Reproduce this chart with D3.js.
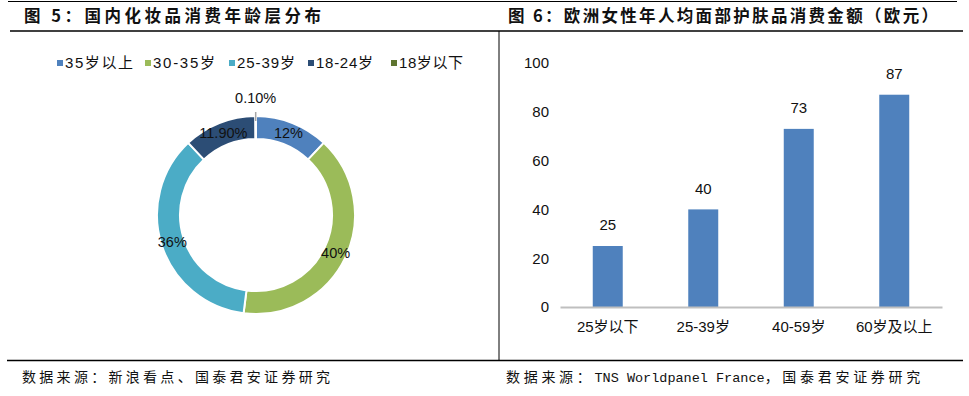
<!DOCTYPE html>
<html><head><meta charset="utf-8">
<script src="https://cdn.jsdelivr.net/npm/d3@7"></script>
<style>
html,body{margin:0;padding:0;background:#fff;}
svg{display:block;}
</style></head>
<body>
<svg id="c" width="969" height="396"></svg>
<script>
// ---- data ----
const title1 = "图 5：国内化妆品消费年龄层分布";
const title2 = "图 6：欧洲女性年人均面部护肤品消费金额（欧元）";
const source1 = "数据来源：新浪看点、国泰君安证券研究";
const source2Parts = ["数据来源：", "TNS Worldpanel France", "，国泰君安证券研究"];

const pieCategories = ["35岁以上", "30-35岁", "25-39岁", "18-24岁", "18岁以下"];
const pieValues = [12, 40, 36, 11.9, 0.1];
const pieLabels = ["12%", "40%", "36%", "11.90%", "0.10%"];
const pieColors = ["#4f81bd", "#9bbb59", "#4bacc6", "#2c4d75", "#5f7530"];

const barCategories = ["25岁以下", "25-39岁", "40-59岁", "60岁及以上"];
const barValues = [25, 40, 73, 87];
const barTicks = [0, 20, 40, 60, 80, 100];

const svg = d3.select("#c");
const sans = "'Liberation Sans', Arial, 'Noto Sans CJK SC', sans-serif";
const cjk = "'Noto Sans CJK SC', sans-serif";
const mono = "'Liberation Mono', 'Noto Sans CJK SC', monospace";

// ---- frame lines ----
svg.append("line").attr("x1",8).attr("x2",957).attr("y1",1.5).attr("y2",1.5).attr("stroke","#000").attr("stroke-width",1.2);
svg.append("line").attr("x1",10).attr("x2",963).attr("y1",31).attr("y2",31).attr("stroke","#000").attr("stroke-width",1.5);
svg.append("line").attr("x1",7).attr("x2",963).attr("y1",360.5).attr("y2",360.5).attr("stroke","#000").attr("stroke-width",1.5);
svg.append("line").attr("x1",499).attr("x2",499).attr("y1",31).attr("y2",360.5).attr("stroke","#000").attr("stroke-width",1);

// ---- titles ----
svg.append("text").attr("x",24).attr("y",22).attr("font-family",cjk).attr("font-weight","bold")
  .attr("font-size",16.5).attr("fill","#111").attr("textLength",297).attr("lengthAdjust","spacing").text(title1);
svg.append("text").attr("x",508).attr("y",22).attr("font-family",cjk).attr("font-weight","bold")
  .attr("font-size",16.5).attr("fill","#111").attr("textLength",430).attr("lengthAdjust","spacing").text(title2);

// ---- sources ----
svg.append("text").attr("x",22).attr("y",382).attr("font-family",mono)
  .attr("font-size",14).attr("fill","#111").attr("textLength",308).attr("lengthAdjust","spacing").text(source1);
const s2 = svg.append("text").attr("x",506).attr("y",382).attr("font-family",mono)
  .attr("font-size",14).attr("fill","#111");
s2.append("tspan").attr("letter-spacing",3.7).text(source2Parts[0]);
s2.append("tspan").attr("font-size",13.5).attr("letter-spacing",0).text(source2Parts[1]);
s2.append("tspan").attr("letter-spacing",3.7).text(source2Parts[2]);

// ---- donut ----
const cx = 256, cy = 215, rOut = 99, rIn = 76;
const pie = d3.pie().sort(null).value(d => d)(pieValues);
const arc = d3.arc().innerRadius(rIn).outerRadius(rOut);
const labelArc = d3.arc().innerRadius(88).outerRadius(88);
const g = svg.append("g").attr("transform",`translate(${cx},${cy})`);
g.selectAll("path").data(pie).join("path")
  .attr("d", arc).attr("fill",(d,i)=>pieColors[i]).attr("stroke","#fff").attr("stroke-width",2);

g.selectAll("text.pl").data(pie.slice(0,4)).join("text").attr("class","pl")
  .attr("transform", d => `translate(${labelArc.centroid(d)})`)
  .attr("text-anchor","middle").attr("dy","0.35em")
  .attr("font-family",sans).attr("font-size",14.5).attr("fill","#111")
  .text((d,i)=>pieLabels[i]);

// small slice: outside label with leader line
const sm = pie[4];
const smAng = (sm.startAngle + sm.endAngle)/2;
const pt = r => [Math.sin(smAng)*r, -Math.cos(smAng)*r];
g.append("line").attr("x1",pt(rOut-5)[0]).attr("y1",pt(rOut-5)[1]).attr("x2",pt(rOut+4)[0]).attr("y2",pt(rOut+4)[1])
  .attr("stroke","#a6a6a6").attr("stroke-width",1.5);
g.append("text").attr("x",pt(rOut+18)[0]).attr("y",pt(rOut+18)[1]).attr("dy","0.35em").attr("text-anchor","middle")
  .attr("font-family",sans).attr("font-size",14.5).attr("fill","#111").text(pieLabels[4]);

// legend
const legX = [57, 145, 229, 308, 391];
const legW = [68, 62, 58, 57, 64];
const leg = svg.append("g");
pieCategories.forEach((c,i)=>{
  leg.append("rect").attr("x",legX[i]).attr("y",60).attr("width",6).attr("height",6).attr("fill",pieColors[i]);
  leg.append("text").attr("x",legX[i]+8).attr("y",63).attr("dy","0.35em")
    .attr("font-family",sans).attr("font-size",15).attr("fill","#111")
    .attr("textLength",legW[i]).attr("lengthAdjust","spacing").text(c);
});

// ---- bar chart ----
const x = d3.scaleBand().domain(barCategories).range([560, 942]).paddingInner(0.686).paddingOuter(0.343);
const y = d3.scaleLinear().domain([0,100]).range([307, 63]);

const yAxis = svg.append("g").attr("transform","translate(549,0)")
  .call(d3.axisLeft(y).tickValues(barTicks).tickSize(0).tickPadding(0));
yAxis.select(".domain").remove();
yAxis.selectAll("text").attr("font-family",sans).attr("font-size",15).attr("fill","#111");

svg.selectAll("rect.bar").data(barValues).join("rect").attr("class","bar")
  .attr("x",(d,i)=>x(barCategories[i])).attr("width",x.bandwidth())
  .attr("y",d=>y(d)).attr("height",d=>y(0)-y(d)).attr("fill","#4f81bd");

svg.selectAll("text.val").data(barValues).join("text").attr("class","val")
  .attr("x",(d,i)=>x(barCategories[i])+x.bandwidth()/2).attr("y",d=>y(d)-21).attr("dy","0.35em")
  .attr("text-anchor","middle").attr("font-family",sans).attr("font-size",15).attr("fill","#111").text(d=>d);

const xAxis = svg.append("g").attr("transform",`translate(0,${y(0)})`)
  .call(d3.axisBottom(x).tickSize(0).tickPadding(14));
xAxis.select(".domain").attr("stroke","#bfbfbf").attr("stroke-width",2);
xAxis.selectAll("text").attr("font-family",sans).attr("font-size",15).attr("fill","#111");
</script>
</body></html>
